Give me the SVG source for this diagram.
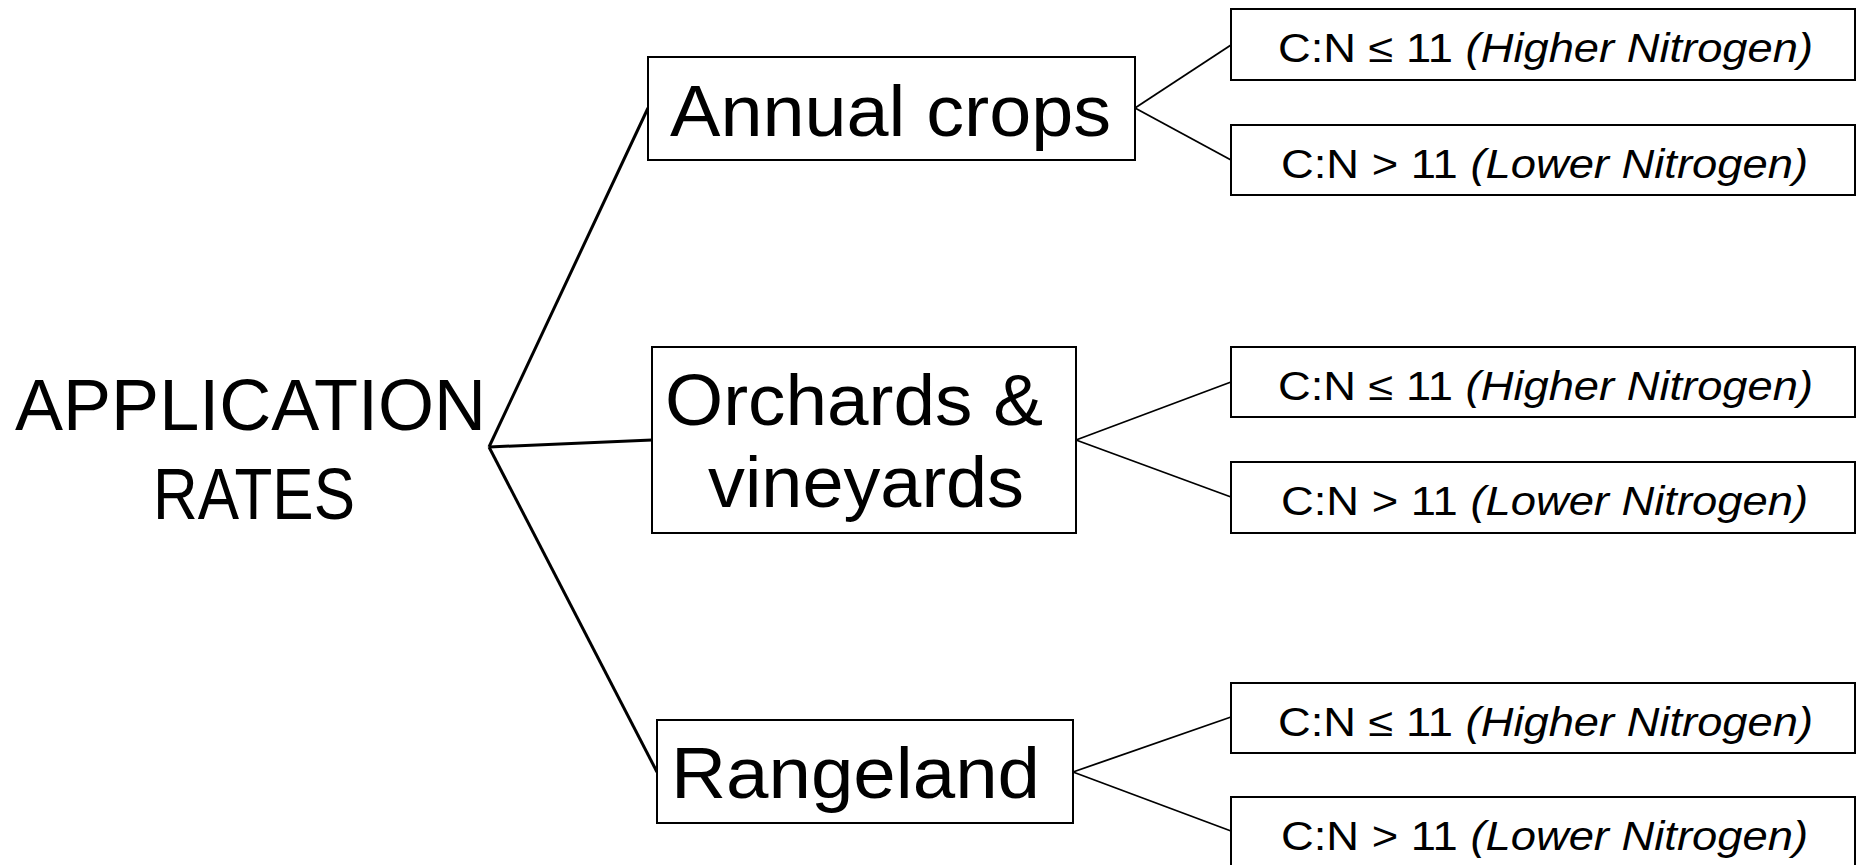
<svg xmlns="http://www.w3.org/2000/svg" width="1862" height="865" viewBox="0 0 1862 865">
<style>
.box{fill:#fff;stroke:#000;stroke-width:2}
.big{font-family:"Liberation Sans",Arial,sans-serif;font-size:72px;fill:#000}
.small{font-family:"Liberation Sans",Arial,sans-serif;font-size:40px;fill:#000}
.it{font-style:italic}
.main{stroke:#000;stroke-width:3;fill:none}
.sub{stroke:#000;stroke-width:1.8;fill:none}
</style>
<rect width="1862" height="865" fill="#fff"/>
<g id="connectors">
<line class="main" x1="489" y1="447" x2="648" y2="108"/>
<line class="main" x1="489" y1="447" x2="652" y2="440"/>
<line class="main" x1="489" y1="447" x2="657" y2="772"/>
<line class="sub" x1="1135" y1="108" x2="1231" y2="45"/>
<line class="sub" x1="1135" y1="108" x2="1231" y2="160"/>
<line class="sub" x1="1076" y1="440" x2="1231" y2="382"/>
<line class="sub" x1="1076" y1="440" x2="1231" y2="497"/>
<line class="sub" x1="1073" y1="772" x2="1231" y2="717"/>
<line class="sub" x1="1073" y1="772" x2="1231" y2="831"/>
</g>
<g id="root">
<text class="big" x="15" y="430" font-size="75" textLength="471" lengthAdjust="spacingAndGlyphs">APPLICATION</text>
<text class="big" x="153" y="519" font-size="75" textLength="202" lengthAdjust="spacingAndGlyphs">RATES</text>
</g>
<g id="annual">
<rect class="box" x="648" y="57" width="487" height="103"/>
<text class="big" x="670" y="136" textLength="441" lengthAdjust="spacingAndGlyphs">Annual crops</text>
</g>
<g id="orchards">
<rect class="box" x="652" y="347" width="424" height="186"/>
<text class="big" x="665" y="425" textLength="378" lengthAdjust="spacingAndGlyphs">Orchards &amp;</text>
<text class="big" x="708" y="507" textLength="316" lengthAdjust="spacingAndGlyphs">vineyards</text>
</g>
<g id="rangeland">
<rect class="box" x="657" y="720" width="416" height="103"/>
<text class="big" x="671" y="798" textLength="369" lengthAdjust="spacingAndGlyphs">Rangeland</text>
</g>
<g id="annual-high">
<rect class="box" x="1231" y="9" width="624" height="71"/>
<text class="small" x="1278" y="62" textLength="535" lengthAdjust="spacingAndGlyphs">C:N ≤ 11 <tspan class="it">(Higher Nitrogen)</tspan></text>
</g>
<g id="annual-low">
<rect class="box" x="1231" y="125" width="624" height="70"/>
<text class="small" x="1281" y="178" textLength="527" lengthAdjust="spacingAndGlyphs">C:N &gt; 11 <tspan class="it">(Lower Nitrogen)</tspan></text>
</g>
<g id="orchards-high">
<rect class="box" x="1231" y="347" width="624" height="70"/>
<text class="small" x="1278" y="400" textLength="535" lengthAdjust="spacingAndGlyphs">C:N ≤ 11 <tspan class="it">(Higher Nitrogen)</tspan></text>
</g>
<g id="orchards-low">
<rect class="box" x="1231" y="462" width="624" height="71"/>
<text class="small" x="1281" y="515" textLength="527" lengthAdjust="spacingAndGlyphs">C:N &gt; 11 <tspan class="it">(Lower Nitrogen)</tspan></text>
</g>
<g id="rangeland-high">
<rect class="box" x="1231" y="683" width="624" height="70"/>
<text class="small" x="1278" y="736" textLength="535" lengthAdjust="spacingAndGlyphs">C:N ≤ 11 <tspan class="it">(Higher Nitrogen)</tspan></text>
</g>
<g id="rangeland-low">
<rect class="box" x="1231" y="797" width="624" height="75"/>
<text class="small" x="1281" y="850" textLength="527" lengthAdjust="spacingAndGlyphs">C:N &gt; 11 <tspan class="it">(Lower Nitrogen)</tspan></text>
</g>
</svg>
